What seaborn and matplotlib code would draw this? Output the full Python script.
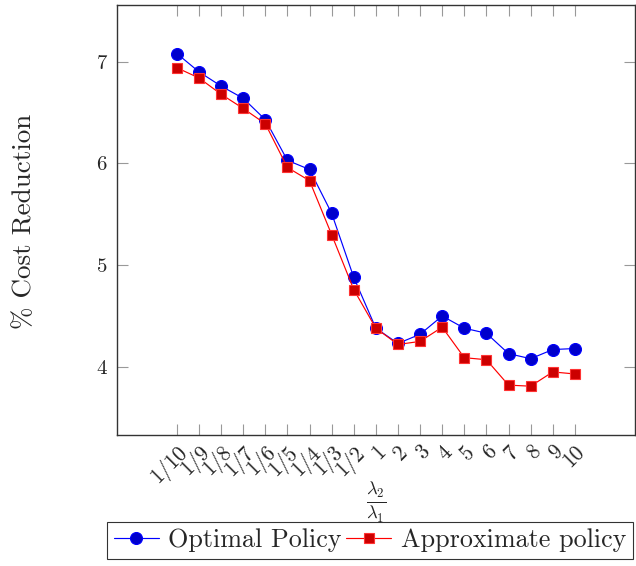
import matplotlib
matplotlib.use("Agg")
import matplotlib.pyplot as plt
import numpy as np
import pandas as pd
import seaborn as sns

# Ratio of arrival rates on the horizontal axis
ratios = ["1/10", "1/9", "1/8", "1/7", "1/6", "1/5", "1/4", "1/3", "1/2",
          "1", "2", "3", "4", "5", "6", "7", "8", "9", "10"]

# Percentage cost reduction for each policy
optimal = [7.08, 6.90, 6.76, 6.64, 6.43, 6.03, 5.94, 5.51, 4.88,
           4.38, 4.23, 4.32, 4.50, 4.38, 4.33, 4.13, 4.08, 4.17, 4.18]
approx = [6.94, 6.84, 6.68, 6.54, 6.39, 5.96, 5.83, 5.30, 4.76,
          4.38, 4.22, 4.25, 4.39, 4.09, 4.07, 3.82, 3.81, 3.95, 3.93]

series_names = ["Optimal Policy", "Approximate policy"]

sns.set_theme(style="ticks")
plt.rcParams["font.family"] = ["cmr10", "DejaVu Serif"]
plt.rcParams["mathtext.fontset"] = "cm"
plt.rcParams["axes.unicode_minus"] = False
plt.rcParams["axes.formatter.use_mathtext"] = True

pos = np.arange(len(ratios))
df = pd.DataFrame({
    "pos": np.concatenate([pos, pos]),
    "value": optimal + approx,
    "policy": [series_names[0]] * len(ratios) + [series_names[1]] * len(ratios),
})

W, H = 636, 566
fig = plt.figure(figsize=(W / 100, H / 100), dpi=100)
ax = fig.add_axes([116.7 / W, 1 - 435 / H, (635 - 116.7) / W, (435 - 5) / H])

styles = {
    series_names[0]: dict(color="#0000ff", marker="o", markersize=8.6,
                          markerfacecolor="#0000cc", markeredgecolor="#0000ff"),
    series_names[1]: dict(color="#ff0000", marker="s", markersize=7.8,
                          markerfacecolor="#cc0000", markeredgecolor="#ff3333"),
}
for name in series_names:
    sub = df[df["policy"] == name]
    sns.lineplot(data=sub, x="pos", y="value", ax=ax, linewidth=0.85,
                 markeredgewidth=0.8, label=name, legend=False, **styles[name])

ax.set_xlim(-2.72, 20.72)
ax.set_ylim(3.33, 7.557)
ax.set_xticks(pos)
ax.set_xticklabels(ratios, rotation=45, ha="right", rotation_mode="anchor",
                   fontsize=15.5)
ax.set_yticks([4, 5, 6, 7])
ax.set_yticklabels(["4", "5", "6", "7"], fontsize=15)
ax.tick_params(axis="both", direction="in", length=8, width=0.8,
               color="#999999", top=True, right=True, pad=7)
ax.tick_params(axis="x", pad=5)
ax.set_xlabel("")
ax.set_ylabel("")
for sp in ax.spines.values():
    sp.set_color("#333333")
    sp.set_linewidth(1.0)
    sp.set_visible(True)

fig.text(24 / W, 1 - 221 / H, "% Cost Reduction", rotation=90,
         ha="center", va="center", fontsize=19.5)
fig.text(376 / W, 1 - 502 / H, r"$\frac{\lambda_2}{\lambda_1}$",
         ha="center", va="center", fontsize=19)

handles, labels = ax.get_legend_handles_labels()
leg = fig.legend(handles, labels, loc="upper left",
                 bbox_to_anchor=(107 / W, 1 - 522 / H), ncol=2,
                 frameon=True, fancybox=False, edgecolor="black",
                 fontsize=18.8, handlelength=1.75, handletextpad=0.35,
                 columnspacing=0.15, borderpad=0.25, borderaxespad=0)
leg.get_frame().set_linewidth(0.8)

fig.savefig("out.png", dpi=100)
